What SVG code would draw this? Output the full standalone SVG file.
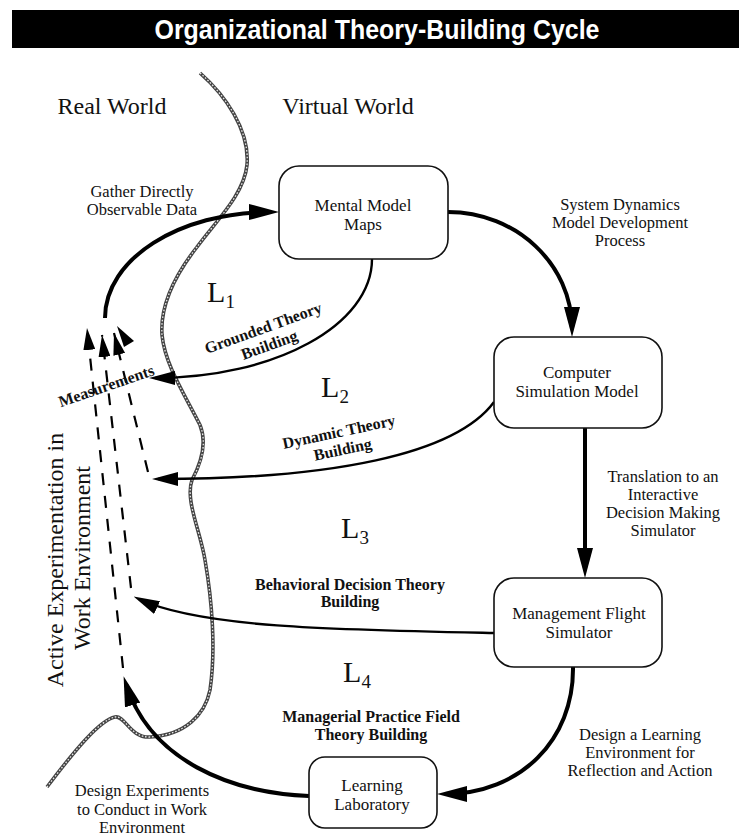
<svg xmlns="http://www.w3.org/2000/svg" width="739" height="836" viewBox="0 0 739 836">
<style>
.t{font-family:"Liberation Serif","Times New Roman",serif;fill:#111;text-anchor:middle}
.lb{font-size:16.5px}
.nd{font-size:17px}
.bd{font-size:16px;font-weight:bold}
.big{font-size:24px}
.L{font-size:30px}
.sub{font-size:19px}
.box{fill:#fff;stroke:#111;stroke-width:1.6}
.thick{fill:none;stroke:#000;stroke-width:4}
.thin{fill:none;stroke:#000;stroke-width:2.4}
.dash{fill:none;stroke:#000;stroke-width:2.2;stroke-dasharray:12 11}
</style>
<defs>
<marker id="ah" markerUnits="userSpaceOnUse" viewBox="0 0 30 16" markerWidth="30" markerHeight="16" refX="22" refY="8" orient="auto"><path d="M0,0 L30,8 L0,16 Z" fill="#000"/></marker>
<marker id="as" markerUnits="userSpaceOnUse" viewBox="0 0 26 14" markerWidth="26" markerHeight="14" refX="20" refY="7" orient="auto"><path d="M0,0 L26,7 L0,14 Z" fill="#000"/></marker>
<marker id="ad" markerUnits="userSpaceOnUse" viewBox="0 0 22 12" markerWidth="22" markerHeight="12" refX="22" refY="6" orient="auto"><path d="M0,0 L22,6 L0,12 Z" fill="#000"/></marker>
</defs>
<rect width="739" height="836" fill="#fff"/>
<g id="title">
<rect x="12" y="10" width="727" height="38" fill="#000"/>
<text x="377" y="39" font-family="Liberation Sans, Arial, sans-serif" font-weight="bold" font-size="27" fill="#fff" text-anchor="middle" textLength="445" lengthAdjust="spacingAndGlyphs">Organizational Theory-Building Cycle</text>
</g>
<g id="boundary">
<path d="M200,73 C225,95 250,130 247,165 C244,195 215,222 197,247 C175,275 160,305 162,335 C165,365 185,395 200,425 C208,445 200,465 192,480 C185,500 200,530 205,560 C212,600 216,650 210,690 C205,715 185,735 150,737 C130,738 125,715 115,717 C100,720 75,750 47,787" fill="none" stroke="#444" stroke-width="3.6"/>
<path d="M200,73 C225,95 250,130 247,165 C244,195 215,222 197,247 C175,275 160,305 162,335 C165,365 185,395 200,425 C208,445 200,465 192,480 C185,500 200,530 205,560 C212,600 216,650 210,690 C205,715 185,735 150,737 C130,738 125,715 115,717 C100,720 75,750 47,787" fill="none" stroke="#e8e8e8" stroke-width="1.3" stroke-dasharray="1.6 1.8"/>
</g>
<g id="world-labels">
<text class="t big" x="112" y="114">Real World</text>
<text class="t big" x="348" y="114">Virtual World</text>
<text class="t big" transform="translate(63,560) rotate(-90)">Active Experimentation in</text>
<text class="t big" transform="translate(90,558) rotate(-90)">Work Environment</text>
</g>
<g id="connectors">
<path class="thick" d="M105,318 C105,259 179,212 271,212" marker-end="url(#ah)"/>
<path class="thick" d="M448,212 C516,212 572,264 572,329" marker-end="url(#ah)"/>
<path class="thick" d="M585,428 L585,570" marker-end="url(#ah)"/>
<path class="thick" d="M573,667 C574,740 520,794 445,794" marker-end="url(#ah)"/>
<path class="thick" d="M309,796 C230,793 150,760 126,684" marker-end="url(#ah)"/>
<path class="thin" d="M372,259 C372,325 275,378 155,378" marker-end="url(#as)"/>
<path class="thin" d="M494,402 C455,455 330,479 158,479" marker-end="url(#as)"/>
<path class="thin" d="M494,633 C340,630 200,628 139,599" marker-end="url(#as)"/>
<path class="dash" d="M123,668 L87,328" marker-end="url(#ad)"/>
<path class="dash" d="M131,588 L102,335" marker-end="url(#ad)"/>
<path class="dash" d="M148,472 L114,333" marker-end="url(#ad)"/>
<polygon points="117,326 134,341 124,347" fill="#000"/>
</g>
<g id="connector-labels">
<text class="t lb" x="142" y="197">Gather Directly</text>
<text class="t lb" x="142" y="215">Observable Data</text>
<text class="t lb" x="620" y="210">System Dynamics</text>
<text class="t lb" x="620" y="228">Model Development</text>
<text class="t lb" x="620" y="246">Process</text>
<text class="t lb" x="663" y="482">Translation to an</text>
<text class="t lb" x="663" y="500">Interactive</text>
<text class="t lb" x="663" y="518">Decision Making</text>
<text class="t lb" x="663" y="536">Simulator</text>
<text class="t lb" x="640" y="740">Design a Learning</text>
<text class="t lb" x="640" y="758">Environment for</text>
<text class="t lb" x="640" y="776">Reflection and Action</text>
<text class="t lb" x="142" y="795.5">Design Experiments</text>
<text class="t lb" x="142" y="814.5">to Conduct in Work</text>
<text class="t lb" x="142" y="833">Environment</text>
<g transform="translate(108,391) rotate(-19)"><text class="t bd" x="0" y="0" font-size="15.5">Measurements</text></g>
<g transform="translate(265,333) rotate(-20)"><text class="t bd" x="0" y="0">Grounded Theory</text><text class="t bd" x="0" y="18">Building</text></g>
<g transform="translate(340,437) rotate(-12)"><text class="t bd" x="0" y="0">Dynamic Theory</text><text class="t bd" x="0" y="18">Building</text></g>
<text class="t bd" x="350" y="590">Behavioral Decision Theory</text>
<text class="t bd" x="350" y="607">Building</text>
<text class="t bd" x="371" y="722">Managerial Practice Field</text>
<text class="t bd" x="371" y="740">Theory Building</text>
</g>
<g id="loop-labels">
<text class="t L" x="221" y="302">L<tspan class="sub" dy="6">1</tspan></text>
<text class="t L" x="335" y="397">L<tspan class="sub" dy="6">2</tspan></text>
<text class="t L" x="355" y="538">L<tspan class="sub" dy="6">3</tspan></text>
<text class="t L" x="357" y="682">L<tspan class="sub" dy="6">4</tspan></text>
</g>
<g id="mental-model-maps">
<rect class="box" x="279" y="166" width="169" height="93" rx="20"/>
<text class="t nd" x="363" y="211">Mental Model</text>
<text class="t nd" x="363" y="230">Maps</text>
</g>
<g id="computer-simulation-model">
<rect class="box" x="494" y="337" width="168" height="91" rx="20"/>
<text class="t nd" x="577" y="378">Computer</text>
<text class="t nd" x="577" y="397">Simulation Model</text>
</g>
<g id="management-flight-simulator">
<rect class="box" x="494" y="578" width="168" height="89" rx="20"/>
<text class="t nd" x="579" y="619">Management Flight</text>
<text class="t nd" x="579" y="638">Simulator</text>
</g>
<g id="learning-laboratory">
<rect class="box" x="309" y="757" width="128" height="71" rx="16"/>
<text class="t nd" x="372" y="791">Learning</text>
<text class="t nd" x="372" y="810">Laboratory</text>
</g>
</svg>
